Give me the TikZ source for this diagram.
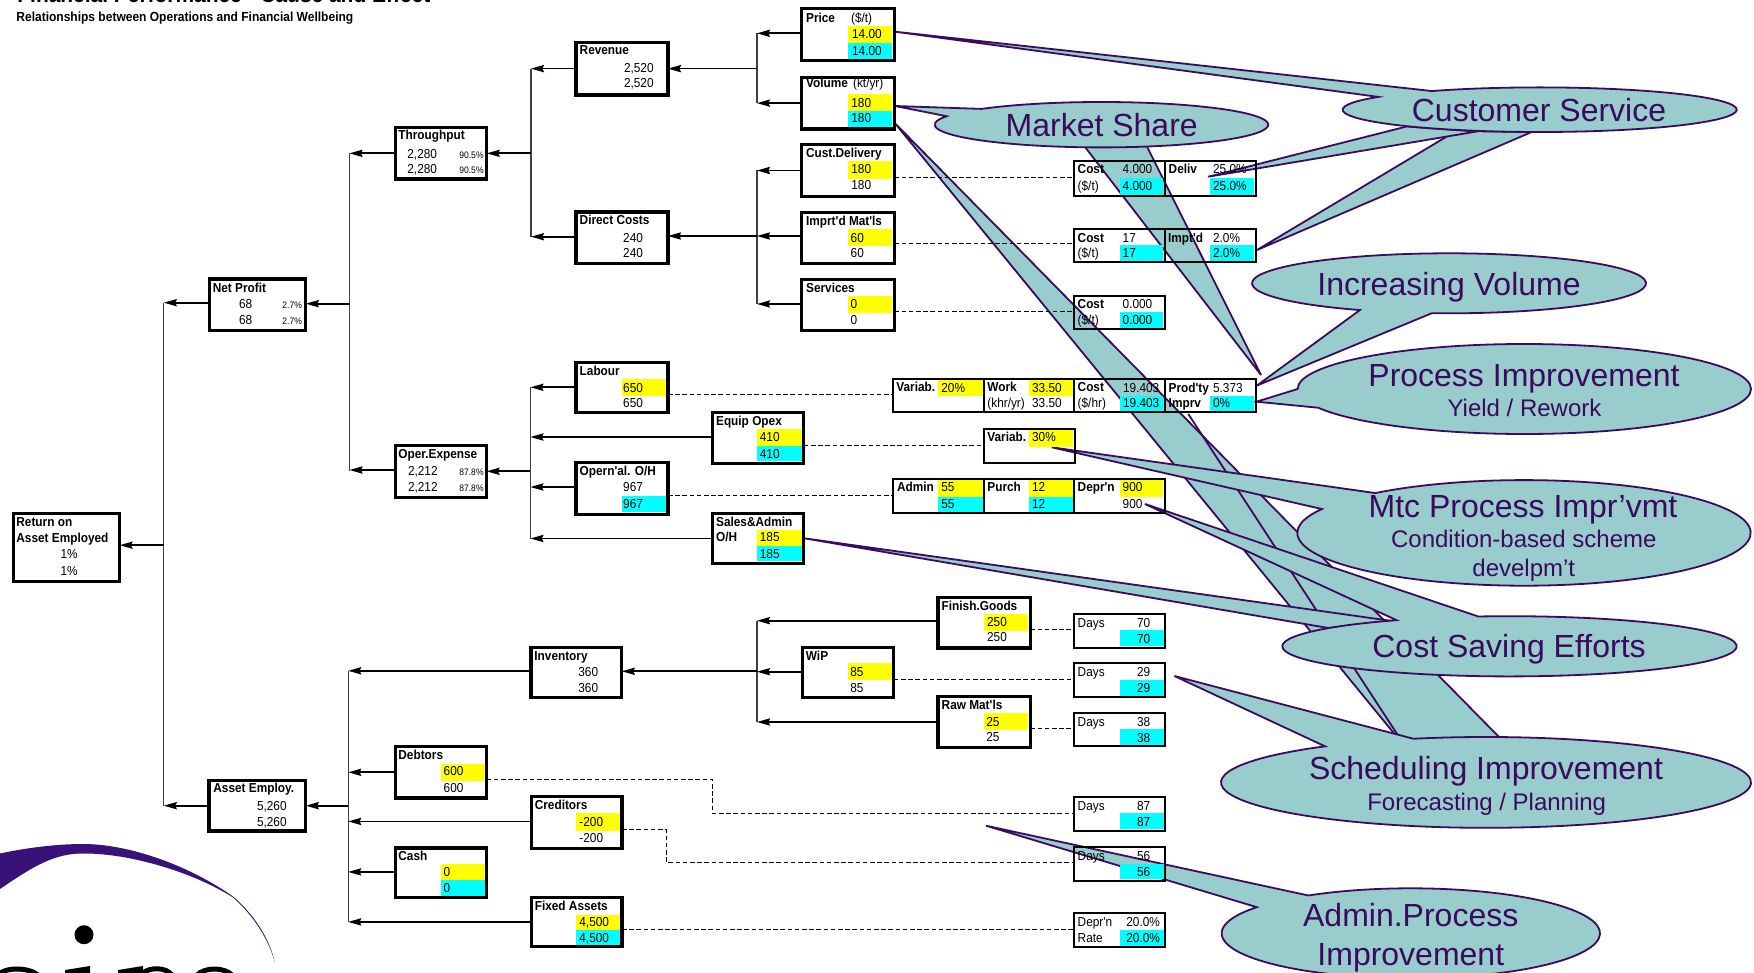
\documentclass[tikz,border=0pt]{standalone}
\usepackage{fontspec}
\usetikzlibrary{arrows.meta}
\newfontfamily\fa[FakeStretch=0.91]{Liberation Sans}
\newfontfamily\fc{Liberation Sans}
\definecolor{yelc}{RGB}{255,255,0}
\definecolor{cyac}{RGB}{0,255,255}
\definecolor{teal1}{RGB}{153,204,204}
\definecolor{purp}{RGB}{59,10,94}
\definecolor{logoc}{RGB}{56,18,120}
\tikzset{
  tb/.style={font=\fa\fontsize{6.5}{7.5}\selectfont\bfseries,anchor=base west,inner sep=0pt,text=black},
  tn/.style={font=\fa\fontsize{6.5}{7.5}\selectfont,anchor=base west,inner sep=0pt,text=black},
  tr/.style={font=\fa\fontsize{6.5}{7.5}\selectfont,anchor=base east,inner sep=0pt,text=black},
  ts/.style={font=\fa\fontsize{4.7}{5.5}\selectfont,anchor=base east,inner sep=0pt,text=black},
  bxa/.style={draw=black,line width=1.65pt,inner sep=0pt,outer sep=0pt},
  bxb/.style={draw=black,line width=1pt,inner sep=0pt,outer sep=0pt},
  conn/.style={line width=0.85pt,draw=black,-{Stealth[length=6.5pt,width=3.6pt,inset=0.8pt]}},
  busl/.style={line width=0.65pt,draw=black!75},
  dsh/.style={line width=0.55pt,draw=black,dash pattern=on 2.3pt off 1.3pt},
  yel/.style={fill=yelc},
  cya/.style={fill=cyac},
  callout/.style={draw=purp,fill=teal1,line width=0.9pt,line join=miter,miter limit=8},
  cbig/.style={font=\fc\fontsize{16}{18}\selectfont,text=purp,anchor=base,inner sep=0pt},
  csm/.style={font=\fc\fontsize{12}{14}\selectfont,text=purp,anchor=base,inner sep=0pt},
}
\newcount\tcnt
\newcommand\T[4]{\global\advance\tcnt by 1\relax\node[#1] (txt\the\tcnt) at (#2,#3) {#4};}
\newcommand\BX[6]{\node[#1,minimum width={(#5-#3)*0.5pt},minimum height={(#6-#4)*0.5pt}] (#2) at ({(#3+#5)/2},{(#4+#6)/2}) {};}
\newcommand\CL[5]{\fill[#1] (#2,#3) rectangle (#4,#5);}
\newcommand\SetE[4]{\def\ecx{#1}\def\ecy{#2}\def\erx{#3}\def\ery{#4}}
\newcommand\EX[1]{\ecx+\erx*cos(#1)}
\newcommand\EY[1]{\ecy+\ery*sin(#1)}
\newcommand\CO[3]{\draw[callout] ({\EX{#1}},{\EY{#1}}) arc[start angle=#1,end angle=#2,x radius=\erx,y radius=\ery] #3;}
\begin{document}
\begin{tikzpicture}[x=0.5pt,y=-0.5pt]
\useasboundingbox (0,0) rectangle (1754,973);
\clip (0,0) rectangle (1754,973);
\fill[white] (0,0) rectangle (1754,973);

% ---------- callouts (they lie under the tree) ----------
% Scheduling Improvement
\draw[callout] (895,123.3) -- (1399.4,740) -- (1500,738) -- cycle;
\draw[draw=purp,line width=0.9pt] (1188.3,414) -- (1401,740);
\SetE{1486}{782.4}{265}{45.4}
\CO{254.1}{592.6}{-- (1174.4,676) -- cycle}
\node[cbig] (cSched) at (1486,779.5) {Scheduling Improvement};
\node[csm] (cSchedB) at (1486.7,810.7) {Forecasting / Planning};
% Market Share
\draw[callout] (1085,147) -- (1261,375) -- (1146.7,146) -- cycle;
\SetE{1101.5}{124.7}{166.8}{22.7}
\CO{224.1}{561.9}{-- (895,106) -- cycle}
\node[cbig] (cMarket) at (1101.7,136.7) {Market Share};
% Customer Service
\draw[callout] (1456,131) -- (1257,250) -- (1531.7,132) -- cycle;
\draw[callout] (1406.7,126.5) -- (1208.3,176.7) -- (1476.7,131.5) -- cycle;
\SetE{1539.7}{109.7}{197}{22.3}
\CO{236.8}{575}{-- (895,31.7) -- cycle}
\node[cbig] (cCust) at (1539,121.7) {Customer Service};
% Increasing Volume
\SetE{1449}{283.3}{197}{30}
\CO{116.9}{455}{-- (1257,385.5) -- cycle}
\node[cbig] (cIncr) at (1449,295) {Increasing Volume};
% Process Improvement
\SetE{1524.3}{389}{226.7}{45}
\CO{180}{515.4}{-- (1256.5,401.7) -- cycle}
\node[cbig] (cProc) at (1524,386.7) {Process Improvement};
\node[csm] (cProcB) at (1524.5,416.7) {Yield / Rework};
% Mtc Process
\SetE{1524}{532.9}{226.7}{52.8}
\CO{229}{566.9}{-- (1051.7,447.3) -- cycle}
\node[cbig] (cMtc) at (1523,517.6) {Mtc Process Impr’vmt};
\node[csm] (cMtcB) at (1523.8,547) {Condition-based scheme};
\node[csm] (cMtcC) at (1523.8,576) {develpm’t};
% Cost Saving
\draw[callout] (804.3,538.3) -- (1328.3,628) -- (1392,621) -- cycle;
\SetE{1509.5}{646.3}{227.2}{30.1}
\CO{262.1}{600.2}{-- (1145,504) -- cycle}
\node[cbig] (cCost) at (1509,657.7) {Cost Saving Efforts};
% Admin
\SetE{1410.8}{933.3}{189.2}{45}
\CO{237.2}{575.5}{-- (986,825.7) -- cycle}
\node[cbig] (cAdmin) at (1410.7,926.4) {Admin.Process};
\node[cbig] (cAdminB) at (1410.8,965.5) {Improvement};

% ---------- logo ----------
\fill[logoc] (0,853.5) .. controls (30,847) and (60,844) .. (83,844) .. controls (130,844) and (190,866) .. (233,896.5) .. controls (255,915) and (270,940) .. (275,963) .. controls (269,940) and (254,916) .. (233,897.5) .. controls (195,873) and (130,853) .. (83,853.5) .. controls (55,853.5) and (35,865) .. (0,889) -- cycle;
\fill[black] (84,934.7) circle[radius=9.5];
\draw[black,line width=2.5pt] (-2,975) .. controls (5,967) and (28,967) .. (38,975);
\fill[black] (65,970) -- (90,966) -- (90,975) -- (65,975) -- cycle;
\fill[black] (118,970) -- (143,966) -- (143,975) -- (118,975) -- cycle;
\draw[black,line width=2.5pt] (143,973) .. controls (150,967) and (166,967) .. (172,975);
\draw[black,line width=2.5pt] (197,975) .. controls (205,967) and (224,967) .. (232,975);

% ---------- colour cells ----------
\CL{yel}{848}{26}{891.7}{42.7}\CL{cya}{848}{42.7}{891.7}{59}
\CL{yel}{848}{94}{891.7}{110.7}\CL{cya}{848}{110.7}{891.7}{127}
\CL{yel}{848}{161}{891.7}{179}
\CL{yel}{848}{229}{891.7}{245.7}
\CL{yel}{848}{296}{891.7}{312.7}
\CL{cya}{1120}{178}{1163.3}{194.7}\CL{cya}{1210}{178}{1254.3}{194.7}
\CL{cya}{1120}{245.3}{1163.3}{261}\CL{cya}{1210}{245.3}{1254.3}{261}
\CL{cya}{1120}{312.3}{1163.3}{328}
\CL{yel}{622}{379}{666}{395.7}
\CL{yel}{757}{429}{801.7}{446}\CL{cya}{757}{446}{801.7}{461.3}
\CL{cya}{622}{496}{666}{512.3}
\CL{yel}{757}{530}{801.7}{545.7}\CL{cya}{757}{545.7}{801.7}{561.3}
\CL{yel}{938}{380}{982.7}{395.7}
\CL{yel}{1029}{380}{1072.7}{395.7}
\CL{cya}{1120}{395.7}{1163.3}{411}
\CL{cya}{1210}{395.7}{1254.3}{411}
\CL{yel}{1029}{430}{1073.3}{446.7}
\CL{yel}{938}{480}{982.7}{496.7}\CL{cya}{938}{496.7}{982.7}{512}
\CL{yel}{1029}{480}{1072.7}{496.7}\CL{cya}{1029}{496.7}{1072.7}{512}
\CL{yel}{1120}{480}{1163.3}{496.7}
\CL{yel}{984}{614}{1028.3}{630.7}
\CL{yel}{848.2}{663.3}{891.8}{679.7}
\CL{yel}{984}{713.3}{1028.3}{729.7}
\CL{cya}{1120}{630}{1164}{646}
\CL{cya}{1120}{680}{1164}{695.7}
\CL{cya}{1120}{729}{1164}{745}
\CL{cya}{1120}{813.3}{1164}{829.3}
\CL{cya}{1120}{864}{1164}{879}
\CL{cya}{1120}{930}{1164}{945.7}
\CL{yel}{441}{763.6}{484.8}{780.8}
\CL{yel}{575.9}{813}{620}{830.6}
\CL{yel}{441}{864}{484.8}{880}\CL{cya}{441}{880}{484.8}{896.2}
\CL{yel}{575.9}{914.5}{620}{930.4}\CL{cya}{575.9}{930.4}{620}{945.6}

% ---------- boxes ----------
\BX{bxa}{roa}{13.4}{513.5}{119.6}{581.6}
\BX{bxa}{np}{209.3}{279}{305.8}{330.7}
\BX{bxa}{ae}{209}{780.5}{305.8}{830.9}
\BX{bxa}{thr}{395.3}{127.7}{486.8}{179}
\BX{bxa}{opx}{395.5}{445.4}{486.6}{497.2}
\BX{bxa}{rev}{576}{42.3}{668}{95}
\BX{bxa}{dc}{576}{212}{668}{263.3}
\BX{bxa}{price}{801.7}{8.3}{894.3}{60.7}
\BX{bxa}{vol}{801.7}{77.3}{894.3}{129}
\BX{bxa}{cust}{801.7}{144.3}{894.3}{196.7}
\BX{bxa}{imp}{801.7}{212.3}{894.3}{263.7}
\BX{bxa}{serv}{801.7}{279.3}{894.3}{330.7}
\BX{bxa}{lab}{576}{362.3}{668}{412.3}
\BX{bxa}{eqp}{712.3}{412.3}{803.7}{463.7}
\BX{bxa}{oh}{576}{462.3}{668}{514.7}
\BX{bxa}{sal}{712.3}{513.3}{803.7}{563.7}
\BX{bxa}{fin}{938}{597.3}{1030.3}{648}
\BX{bxa}{wip}{802.6}{647.3}{893.7}{697.7}
\BX{bxa}{raw}{938}{696.3}{1030.3}{747.7}
\BX{bxa}{inv}{531}{647.3}{621.8}{697.7}
\BX{bxa}{deb}{395.5}{746.6}{486.6}{798}
\BX{bxa}{cre}{531.3}{796.7}{621.9}{848.6}
\BX{bxa}{cash}{395.5}{847.9}{486.6}{897.6}
\BX{bxa}{fix}{531.3}{897.2}{621.9}{946.6}
\BX{bxb}{c1}{1074.3}{161.3}{1165}{195.7}
\BX{bxb}{d1}{1165}{161.3}{1255.7}{195.7}
\BX{bxb}{c2}{1074.3}{229.3}{1165}{262.3}
\BX{bxb}{d2}{1165}{229.3}{1255.7}{262.3}
\BX{bxb}{c3}{1074.3}{296}{1165}{329.3}
\BX{bxb}{r1}{893.3}{379}{984}{412.3}
\BX{bxb}{r2}{984}{379}{1074}{412.3}
\BX{bxb}{r3}{1074}{379}{1164.7}{412.3}
\BX{bxb}{r4}{1164.7}{379}{1256}{412.3}
\BX{bxb}{v30}{984}{429}{1074.7}{462.7}
\BX{bxb}{a1}{893.3}{479}{984}{513.3}
\BX{bxb}{a2}{984}{479}{1074}{513.3}
\BX{bxb}{a3}{1074}{479}{1164.7}{513.3}
\BX{bxb}{d70}{1074}{613.7}{1164.7}{647.7}
\BX{bxb}{d29}{1074}{663.3}{1164.7}{697}
\BX{bxb}{d38}{1074}{712.7}{1164.7}{746.3}
\BX{bxb}{d87}{1074}{797}{1164.7}{830.7}
\BX{bxb}{d56}{1074}{847.3}{1164.7}{880.7}
\BX{bxb}{rate}{1074}{913.3}{1164.7}{946.7}

% ---------- bus positions ----------
\coordinate (busA) at (163.8,0);
\coordinate (busB) at (349.5,0);
\coordinate (busG) at (348.2,0);
\coordinate (busT) at (531,0);
\coordinate (busO) at (530.4,0);
\coordinate (busR) at (757,0);
\coordinate (busI) at (757,0);

% ---------- buses and arrows ----------
\draw[busl] (busA |- 0,302.7) -- (busA |- ae.west);
\draw[busl] (busB |- thr.west) -- (busB |- opx.west);
\draw[busl] (busG |- 0,670.8) -- (busG |- fix.west);
\draw[busl] (busT |- rev.west) -- (busT |- 0,236.7);
\draw[busl] (busO |- lab.west) -- (busO |- sal.west);
\draw[busl] (busR |- 0,33.3) -- (busR |- vol.west);
\draw[busl] (busR |- cust.west) -- (busR |- 0,304);
\draw[busl] (busI |- 0,620.7) -- (busI |- raw.west);

\draw[conn] (busA |- 0,545.2) -- (roa.east |- 0,545.2);
\draw[conn] (np.west |- 0,302.7) -- (busA |- 0,302.7);
\draw[conn] (ae.west) -- (busA |- ae.west);
\draw[conn] (busB |- 0,303.7) -- (np.east |- 0,303.7);
\draw[conn] (thr.west) -- (busB |- thr.west);
\draw[conn] (opx.west |- 0,470) -- (busB |- 0,470);
\draw[conn] (busG |- ae.east) -- (ae.east);
\draw[conn] (inv.west |- 0,670.8) -- (busG |- 0,670.8);
\draw[conn] (deb.west) -- (busG |- deb.west);
\draw[conn] (cre.west |- 0,821.4) -- (busG |- 0,821.4);
\draw[conn] (cash.west |- 0,871.9) -- (busG |- 0,871.9);
\draw[conn] (fix.west) -- (busG |- fix.west);
\draw[conn] (busT |- thr.east) -- (thr.east);
\draw[conn] (rev.west) -- (busT |- rev.west);
\draw[conn] (dc.west |- 0,236.7) -- (busT |- 0,236.7);
\draw[conn] (busO |- opx.east) -- (opx.east);
\draw[conn] (lab.west) -- (busO |- lab.west);
\draw[conn] (eqp.west |- 0,437) -- (busO |- 0,437);
\draw[conn] (oh.west |- 0,487) -- (busO |- 0,487);
\draw[conn] (sal.west) -- (busO |- sal.west);
\draw[conn] (busR |- rev.east) -- (rev.east);
\draw[conn] (price.west |- 0,33.3) -- (busR |- 0,33.3);
\draw[conn] (vol.west) -- (busR |- vol.west);
\draw[conn] (busR |- 0,236) -- (dc.east |- 0,236);
\draw[conn] (cust.west) -- (busR |- cust.west);
\draw[conn] (imp.west |- 0,236) -- (busR |- 0,236);
\draw[conn] (serv.west |- 0,304) -- (busR |- 0,304);
\draw[conn] (busI |- 0,671.3) -- (inv.east |- 0,671.3);
\draw[conn] (fin.west |- 0,620.7) -- (busI |- 0,620.7);
\draw[conn] (wip.west |- 0,671.7) -- (busI |- 0,671.7);
\draw[conn] (raw.west) -- (busI |- raw.west);

% ---------- dashed links ----------
\draw[dsh] (cust.east |- 0,177.7) -- (c1.west |- 0,177.7);
\draw[dsh] (imp.east |- 0,243.7) -- (c2.west |- 0,243.7);
\draw[dsh] (serv.east |- 0,311.7) -- (c3.west |- 0,311.7);
\draw[dsh] (lab.east |- 0,394.7) -- (r1.west |- 0,394.7);
\draw[dsh] (eqp.east |- 0,445.3) -- (v30.west |- 0,445.3);
\draw[dsh] (oh.east |- 0,495.7) -- (a1.west |- 0,495.7);
\draw[dsh] (fin.east |- 0,629.3) -- (d70.west |- 0,629.3);
\draw[dsh] (wip.east |- 0,679.4) -- (d29.west |- 0,679.4);
\draw[dsh] (raw.east |- 0,728.7) -- (d38.west |- 0,728.7);
\draw[dsh] (deb.east |- 0,779.4) -- (712.4,779.4) -- (712.4,813.4) -- (d87.west |- 0,813.4);
\draw[dsh] (cre.east |- 0,829.7) -- (666.4,829.7) -- (666.4,862.4) -- (d56.west |- 0,862.4);
\draw[dsh] (fix.east |- 0,929.6) -- (rate.west |- 0,929.6);

% ---------- title ----------
\node[font=\fa\fontsize{11.5}{13}\selectfont\bfseries,anchor=base west,inner sep=0pt] (title) at (17,3) {Financial Performance - Cause and Effect};
\node[font=\fa\fontsize{6.6}{8}\selectfont\bfseries,anchor=base west,inner sep=0pt] (subtitle) at (16,22) {Relationships between Operations and Financial Wellbeing};

% ---------- box texts ----------
\T{tb}{16}{526.5}{Return on}\T{tb}{16}{542.4}{Asset Employed}
\T{tr}{78}{558.3}{1\%}\T{tr}{78}{575.2}{1\%}
\T{tb}{212.4}{292.3}{Net Profit}\T{tr}{252.6}{308.3}{68}\T{tr}{252.6}{324.3}{68}
\T{ts}{302.3}{308.3}{2.7\%}\T{ts}{302.3}{324.3}{2.7\%}
\T{tb}{213}{792.5}{Asset Employ.}\T{tr}{287}{810.5}{5,260}\T{tr}{287}{826.3}{5,260}
\T{tb}{398}{140}{Throughput}\T{tr}{437.4}{158.3}{2,280}\T{tr}{437.4}{173.3}{2,280}
\T{ts}{484}{158.3}{90.5\%}\T{ts}{484}{173.3}{90.5\%}
\T{tb}{398}{458}{Oper.Expense}\T{tr}{438}{475.4}{2,212}\T{tr}{438}{491.3}{2,212}
\T{ts}{484}{475.4}{87.8\%}\T{ts}{484}{491.3}{87.8\%}
\T{tb}{579.3}{55}{Revenue}\T{tr}{654}{72.5}{2,520}\T{tr}{654}{88}{2,520}
\T{tb}{579.3}{225}{Direct Costs}\T{tr}{643.3}{242.3}{240}\T{tr}{643.3}{257.7}{240}
\T{tb}{805.7}{22.7}{Price}\T{tn}{850.7}{22.7}{(\$/t)}\T{tn}{851.7}{38.7}{14.00}\T{tn}{851.7}{55.3}{14.00}
\T{tb}{805.7}{87.3}{Volume}\T{tn}{852.7}{87.3}{(kt/yr)}\T{tn}{851}{107.3}{180}\T{tn}{851}{122.7}{180}
\T{tb}{805.7}{157.3}{Cust.Delivery}\T{tn}{851}{173.3}{180}\T{tn}{851}{190}{180}
\T{tb}{805.7}{225.7}{Imprt'd Mat'ls}\T{tn}{850.3}{242.3}{60}\T{tn}{850.3}{257.7}{60}
\T{tb}{805.7}{292.3}{Services}\T{tn}{850.3}{308.3}{0}\T{tn}{850.3}{324.3}{0}
\T{tb}{1077.3}{173.3}{Cost}\T{tn}{1077.3}{190.7}{(\$/t)}\T{tn}{1122.3}{173.3}{4.000}\T{tn}{1122.3}{190.7}{4.000}
\T{tb}{1168.3}{173.3}{Deliv}\T{tn}{1212.7}{173.3}{25.0\%}\T{tn}{1212.7}{190.7}{25.0\%}
\T{tb}{1077.3}{242.3}{Cost}\T{tn}{1077.3}{257.7}{(\$/t)}\T{tn}{1122.3}{242.3}{17}\T{tn}{1122.3}{257.7}{17}
\T{tb}{1167.7}{242.3}{Impt'd}\T{tn}{1212.7}{242.3}{2.0\%}\T{tn}{1212.7}{257.7}{2.0\%}
\T{tb}{1077.3}{308.3}{Cost}\T{tn}{1077.3}{324.3}{(\$/t)}\T{tn}{1122.3}{308.3}{0.000}\T{tn}{1122.3}{324.3}{0.000}
\T{tb}{579.3}{375}{Labour}\T{tr}{643.3}{392.3}{650}\T{tr}{643.3}{407.3}{650}
\T{tb}{715.7}{425.7}{Equip Opex}\T{tr}{780}{441.7}{410}\T{tr}{780}{458.3}{410}
\T{tb}{579.3}{475}{Opern'al. O/H}\T{tr}{643.3}{491.7}{967}\T{tr}{643.3}{508.3}{967}
\T{tb}{715.7}{526}{Sales\&Admin}\T{tb}{715.7}{541.7}{O/H}\T{tr}{780}{541.7}{185}\T{tr}{780}{558.3}{185}
\T{tb}{896}{391.7}{Variab.}\T{tn}{941}{392.3}{20\%}
\T{tb}{987}{391.7}{Work}\T{tn}{987}{407.7}{(khr/yr)}\T{tn}{1031.7}{392.3}{33.50}\T{tn}{1031.7}{407.7}{33.50}
\T{tb}{1077.3}{391.7}{Cost}\T{tn}{1077.3}{407.7}{(\$/hr)}\T{tn}{1122.7}{392.3}{19.403}\T{tn}{1122.7}{407.7}{19.403}
\T{tb}{1168.3}{392}{Prod'ty}\T{tb}{1168.3}{407.7}{Imprv}\T{tn}{1212.7}{392.3}{5.373}\T{tn}{1212.7}{407.7}{0\%}
\T{tb}{987}{441}{Variab.}\T{tn}{1031.7}{441.7}{30\%}
\T{tb}{896.7}{491.7}{Admin}\T{tn}{941}{491.7}{55}\T{tn}{941}{508.3}{55}
\T{tb}{987}{491.7}{Purch}\T{tn}{1031.7}{491.7}{12}\T{tn}{1031.7}{508.3}{12}
\T{tb}{1077.3}{491.7}{Depr'n}\T{tn}{1122.3}{491.7}{900}\T{tn}{1122.3}{508.3}{900}
\T{tb}{941.3}{610}{Finish.Goods}\T{tn}{986.7}{626.7}{250}\T{tn}{986.7}{641.7}{250}
\T{tb}{805.5}{660}{WiP}\T{tn}{850}{676}{85}\T{tn}{850}{692}{85}
\T{tb}{941.3}{709}{Raw Mat'ls}\T{tn}{986}{726}{25}\T{tn}{986}{741}{25}
\T{tb}{534}{660}{Inventory}\T{tr}{598.5}{676}{360}\T{tr}{598.5}{692}{360}
\T{tb}{398}{759.3}{Debtors}\T{tn}{443.3}{775.2}{600}\T{tn}{443.3}{792.5}{600}
\T{tb}{534.4}{809.8}{Creditors}\T{tn}{579}{826.3}{-200}\T{tn}{579}{842.2}{-200}
\T{tb}{398}{860.2}{Cash}\T{tn}{443.3}{876.8}{0}\T{tn}{443.3}{892.7}{0}
\T{tb}{534.4}{910.3}{Fixed Assets}\T{tn}{579}{926.2}{4,500}\T{tn}{579}{942}{4,500}
\T{tn}{1077.3}{627.3}{Days}\T{tn}{1136.7}{627.3}{70}\T{tn}{1136.7}{643.3}{70}
\T{tn}{1077.3}{676}{Days}\T{tn}{1136.7}{676}{29}\T{tn}{1136.7}{692.7}{29}
\T{tn}{1077.3}{726}{Days}\T{tn}{1136.7}{726}{38}\T{tn}{1136.7}{742.7}{38}
\T{tn}{1077.3}{810}{Days}\T{tn}{1136.7}{810}{87}\T{tn}{1136.7}{826.7}{87}
\T{tn}{1077.3}{860.7}{Days}\T{tn}{1136.7}{860.7}{56}\T{tn}{1136.7}{876.7}{56}
\T{tn}{1077.3}{926.7}{Depr'n}\T{tn}{1077.3}{942.7}{Rate}\T{tn}{1126}{926.7}{20.0\%}\T{tn}{1126}{942.7}{20.0\%}
\end{tikzpicture}
\end{document}
